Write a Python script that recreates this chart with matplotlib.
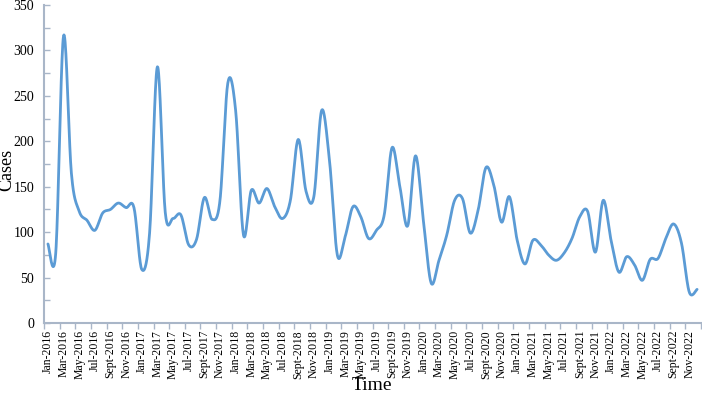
import numpy as np
import matplotlib
matplotlib.use("Agg")
import matplotlib.pyplot as plt

months = ["Jan", "Feb", "Mar", "Apr", "May", "Jun", "Jul", "Aug", "Sept", "Oct", "Nov", "Dec"]
years = [2016, 2017, 2018, 2019, 2020, 2021, 2022]
labels = [m + "-" + str(y) for y in years for m in months]

cases_2016 = [87, 77, 316, 165, 123, 113, 102, 121, 125, 132, 127, 127]
cases_2017 = [59, 99, 282, 122, 115, 119, 86, 92, 138, 114, 135, 264]
cases_2018 = [234, 97, 146, 132, 148, 128, 115, 135, 202, 145, 139, 234]
cases_2019 = [179, 75, 95, 128, 117, 93, 102, 119, 193, 150, 107, 184]
cases_2020 = [113, 44, 69, 97, 135, 137, 99, 124, 171, 152, 111, 139]
cases_2021 = [91, 65, 91, 86, 75, 69, 77, 93, 117, 123, 78, 135]
cases_2022 = [91, 56, 73, 64, 47, 70, 71, 93, 109, 88, 34, 37]
cases = cases_2016 + cases_2017 + cases_2018 + cases_2019 + cases_2020 + cases_2021 + cases_2022


def smooth(x, y, n=20):
    # catmull-rom style smoothing, like the spreadsheet "smoothed line"
    x = np.asarray(x, float)
    y = np.asarray(y, float)
    px = np.concatenate([[x[0]], x, [x[-1]]])
    py = np.concatenate([[y[0]], y, [y[-1]]])
    xs, ys = [], []
    t = np.linspace(0, 1, n, endpoint=False)
    for i in range(1, len(px) - 2):
        p0x, p1x, p2x, p3x = px[i - 1], px[i], px[i + 1], px[i + 2]
        p0y, p1y, p2y, p3y = py[i - 1], py[i], py[i + 1], py[i + 2]
        c1x = p1x + (p2x - p0x) / 6
        c1y = p1y + (p2y - p0y) / 6
        c2x = p2x - (p3x - p1x) / 6
        c2y = p2y - (p3y - p1y) / 6
        b0 = (1 - t) ** 3
        b1 = 3 * (1 - t) ** 2 * t
        b2 = 3 * (1 - t) * t ** 2
        b3 = t ** 3
        xs.extend(b0 * p1x + b1 * c1x + b2 * c2x + b3 * p2x)
        ys.extend(b0 * p1y + b1 * c1y + b2 * c2y + b3 * p2y)
    xs.append(x[-1])
    ys.append(y[-1])
    return np.array(xs), np.array(ys)


plt.rcParams['font.family'] = ['Liberation Serif', 'DejaVu Serif']

fig = plt.figure(figsize=(7.02, 3.99), dpi=100)
ax = fig.add_axes([44 / 702, 76 / 399, 657 / 702, 318 / 399])

x = np.arange(len(cases))
sx, sy = smooth(x, cases)
ax.plot(sx, sy, color="#5B9BD5", linewidth=2.0, solid_capstyle="round")

axis_color = "#A9B6C8"
ax.set_xlim(-0.5, len(cases) - 0.5)
ax.set_ylim(0, 350)
ax.set_yticks(np.arange(0, 351, 50))
ax.set_yticks(np.arange(0, 351, 25), minor=True)
ax.set_xticks(x[::2])
ax.set_xticklabels(labels[::2], rotation=90, fontsize=8.5)
ax.set_xticks(np.arange(-0.5, len(cases), 2), minor=True)

for s in ["top", "right"]:
    ax.spines[s].set_visible(False)
for s in ["left", "bottom"]:
    ax.spines[s].set_color(axis_color)
    ax.spines[s].set_linewidth(1.5)

ax.tick_params(axis="y", which="both", direction="in", length=4, color=axis_color,
               labelsize=10, width=1, pad=7)
ax.tick_params(axis="x", which="major", length=0, pad=5)
ax.tick_params(axis="x", which="minor", length=4, color=axis_color, width=1)

fig.text(7 / 702, 1 - 170 / 399, "Cases", fontsize=13, rotation=90, ha="center", va="center")
fig.text(372 / 702, 1 - 385 / 399, "Time", fontsize=14, ha="center", va="center")

fig.savefig("out.png", dpi=100)
